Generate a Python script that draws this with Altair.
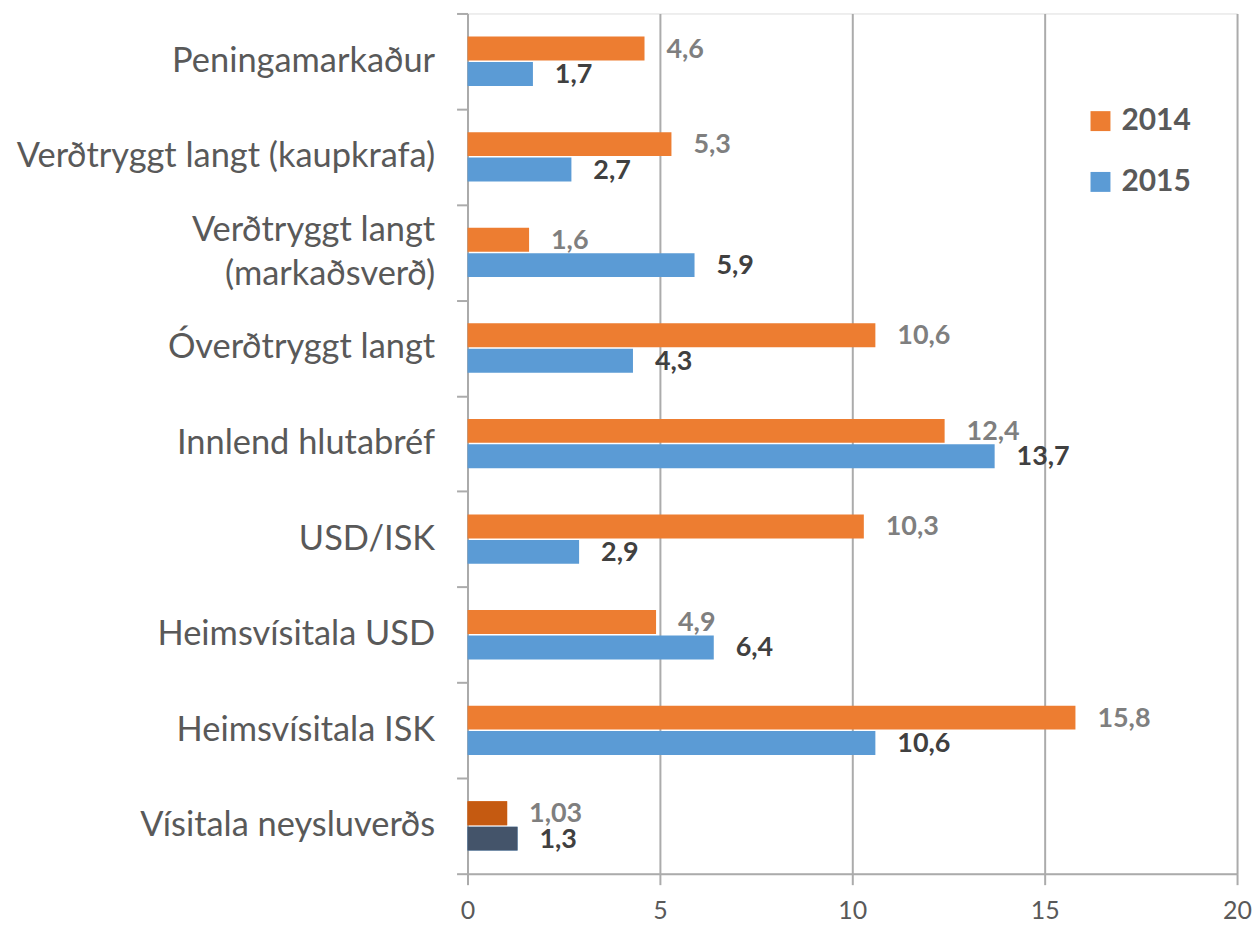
import altair as alt
import pandas as pd

categories = [
    "Peningamarkaður",
    "Verðtryggt langt (kaupkrafa)",
    "Verðtryggt langt|(markaðsverð)\u00a0\u00a0",
    "Óverðtryggt langt",
    "Innlend hlutabréf",
    "USD/ISK",
    "Heimsvísitala USD",
    "Heimsvísitala ISK",
    "Vísitala neysluverðs",
]
values_2014 = [4.6, 5.3, 1.6, 10.6, 12.4, 10.3, 4.9, 15.8, 1.03]
values_2015 = [1.7, 2.7, 5.9, 4.3, 13.7, 2.9, 6.4, 10.6, 1.3]
years = ["2014", "2015"]
series_colors = ["#ED7D31", "#5B9BD5"]
special_colors = ["#C55A11", "#44546A"]
label_colors = ["#7F7F7F", "#404040"]

rows = []
for i, c in enumerate(categories):
    for y, vals in zip(years, [values_2014, values_2015]):
        v = vals[i]
        rows.append({"cat": c, "year": y, "value": v,
                     "label": str(v).replace(".", ",")})
df = pd.DataFrame(rows)

FONT = "Lato"
LINE = "#ABABAB"

y_enc = alt.Y("cat:N", sort=categories, title=None,
              scale=alt.Scale(paddingInner=0, paddingOuter=0),
              axis=alt.Axis(labelExpr="split(datum.label, '|')",
                            labelOffset={"expr": "indexof(datum.label, '|') >= 0 ? -22 : 0"},
                            labelFontSize=34.5, labelColor="#595959", labelFont=FONT,
                            labelPadding=22, tickSize=11, tickBand="extent",
                            tickColor=LINE, tickWidth=2,
                            domainColor=LINE, domainWidth=2,
                            labelLineHeight=44, grid=False, labelLimit=460))
yoff = alt.YOffset("year:N", sort=years,
                   scale=alt.Scale(paddingInner=0.06, paddingOuter=0.91))
x_enc = alt.X("value:Q", title=None,
              scale=alt.Scale(domain=[0, 20], nice=False),
              axis=alt.Axis(values=[0, 5, 10, 15, 20], labelFontSize=25,
                            labelColor="#595959", labelFont=FONT, labelFlush=False,
                            gridColor=LINE, gridWidth=2,
                            domainColor=LINE, domainWidth=2,
                            tickColor=LINE, tickWidth=2, tickSize=11,
                            labelPadding=14))

base = alt.Chart(df)

bars = base.mark_bar().encode(
    y=y_enc, yOffset=yoff, x=x_enc,
    color=alt.Color("year:N", sort=years,
                    scale=alt.Scale(domain=years, range=series_colors),
                    legend=alt.Legend(title=None, orient="none", legendX=620, legendY=93,
                                      symbolType="square", symbolSize=400,
                                      symbolStrokeWidth=0,
                                      labelFontSize=30, labelFontWeight="bold",
                                      labelColor="#595959", labelFont=FONT,
                                      labelOffset=6, rowPadding=31)),
)

special = base.transform_filter(
    alt.datum.cat == "Vísitala neysluverðs"
).mark_bar().encode(
    y=alt.Y("cat:N", sort=categories), yOffset=yoff, x="value:Q",
    color=alt.Color("year:N", scale=alt.Scale(domain=years, range=special_colors),
                    legend=None),
)

labels = base.mark_text(align="left", baseline="middle", dx=22, dy=1,
                        fontSize=27, fontWeight="bold", font=FONT).encode(
    y=alt.Y("cat:N", sort=categories), yOffset=yoff, x="value:Q",
    text="label:N",
    color=alt.Color("year:N", scale=alt.Scale(domain=years, range=label_colors),
                    legend=None),
)

chart = alt.layer(bars, special, labels).resolve_scale(color="independent").properties(
    width=772, height=863,
    autosize=alt.AutoSizeParams(type="none"),
    padding={"left": 461, "top": 4, "right": 15, "bottom": 52},
).configure_view(stroke=None).configure(background="white")

chart.save("out.html", embed_options={"renderer": "svg", "actions": False})
